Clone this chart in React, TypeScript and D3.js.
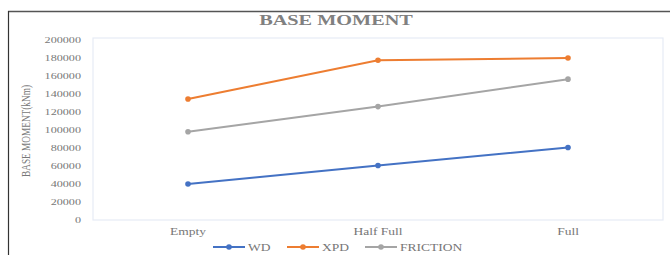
import React, { useEffect, useRef } from "react";
import * as d3 from "d3";

const categories = ["Empty", "Half Full", "Full"];
const seriesNames = ["WD", "XPD", "FRICTION"];
const seriesColors = ["#4472c4", "#ed7d31", "#a5a5a5"];
const wdValues = [40000, 60500, 80500];
const xpdValues = [134500, 177500, 180000];
const frictionValues = [98000, 126000, 156500];
const yTicks = [0, 20000, 40000, 60000, 80000, 100000, 120000, 140000, 160000, 180000, 200000];

const App = () => {
  const ref = useRef<SVGSVGElement | null>(null);

  useEffect(() => {
    const svg = d3.select(ref.current);
    svg.selectAll("*").remove();

    const W = 670;
    const H = 255;
    const margin = { top: 40, right: 7, bottom: 35, left: 93 };
    const width = W - margin.left - margin.right;
    const height = H - margin.top - margin.bottom;
    const font = "'Liberation Serif', 'DejaVu Serif', serif";

    svg.append("rect").attr("width", W).attr("height", H).attr("fill", "#fff");

    // outer frame
    svg.append("line").attr("x1", 8).attr("x2", W).attr("y1", 11.5).attr("y2", 11.5)
      .attr("stroke", "#555").attr("stroke-width", 1.5);
    svg.append("line").attr("x1", 8.5).attr("x2", 8.5).attr("y1", 11).attr("y2", H)
      .attr("stroke", "#333").attr("stroke-width", 1.2);

    const g = svg.append("g").attr("transform", `translate(${margin.left},${margin.top})`);

    const x = d3.scaleBand().domain(categories).range([0, width]);
    const y = d3.scaleLinear().domain([0, 200000]).range([height, 0]);

    // plot area border
    g.append("rect").attr("x", 0).attr("y", -2).attr("width", width).attr("height", height + 2)
      .attr("fill", "none").attr("stroke", "#e6ebf5").attr("stroke-width", 1.2);

    const yAxis = g.append("g").call(
      d3.axisLeft(y).tickValues(yTicks).tickSize(0).tickPadding(12).tickFormat((d) => String(d))
    );
    yAxis.select(".domain").remove();
    yAxis.selectAll("text").attr("class", "wide").attr("font-family", font).attr("font-size", 9).attr("fill", "#777");

    const xAxis = g.append("g").attr("transform", `translate(0,${height})`).call(
      d3.axisBottom(x).tickSize(0).tickPadding(8)
    );
    xAxis.select(".domain").remove();
    xAxis.selectAll("text").attr("class", "wide").attr("font-family", font).attr("font-size", 10).attr("fill", "#777");

    const series = [wdValues, xpdValues, frictionValues];
    const line = d3.line<number>()
      .x((_, i) => (x(categories[i]) as number) + x.bandwidth() / 2)
      .y((d) => y(d));

    series.forEach((vals, si) => {
      g.append("path").datum(vals).attr("d", line).attr("fill", "none")
        .attr("stroke", seriesColors[si]).attr("stroke-width", 2);
      g.selectAll(null).data(vals).join("circle")
        .attr("cx", (_, i) => (x(categories[i]) as number) + x.bandwidth() / 2)
        .attr("cy", (d) => y(d))
        .attr("r", 2.8)
        .attr("fill", seriesColors[si]);
    });

    // title
    svg.append("text").attr("class", "wide").attr("x", 336).attr("y", 25).attr("text-anchor", "middle")
      .attr("font-family", font).attr("font-size", 15).attr("font-weight", "bold")
      .attr("fill", "#808080").text("BASE MOMENT");

    // y axis title
    svg.append("text").attr("transform", `translate(30,131) rotate(-90)`)
      .attr("text-anchor", "middle").attr("font-family", font).attr("font-size", 12)
      .attr("fill", "#777").attr("textLength", 92).attr("lengthAdjust", "spacingAndGlyphs")
      .text("BASE MOMENT(kNm)");

    // legend
    const legendX = [213, 287, 365];
    seriesNames.forEach((name, i) => {
      const lg = svg.append("g").attr("transform", `translate(${legendX[i]},247)`);
      lg.append("line").attr("x1", 0).attr("x2", 32).attr("stroke", seriesColors[i]).attr("stroke-width", 2);
      lg.append("circle").attr("cx", 16).attr("r", 2.8).attr("fill", seriesColors[i]);
      lg.append("text").attr("class", "wide").attr("x", 35).attr("y", 3.5).attr("font-family", font)
        .attr("font-size", 10).attr("fill", "#777").text(name);
    });

    // the source picture is stretched horizontally, so widen the text to match
    svg.selectAll<SVGTextElement, unknown>("text.wide").each(function () {
      const len = this.getComputedTextLength();
      d3.select(this).attr("textLength", len * 1.35).attr("lengthAdjust", "spacingAndGlyphs");
    });
  }, []);

  return <svg ref={ref} width={670} height={255} style={{ position: "absolute", left: 0, top: 0 }} />;
};

export default App;
